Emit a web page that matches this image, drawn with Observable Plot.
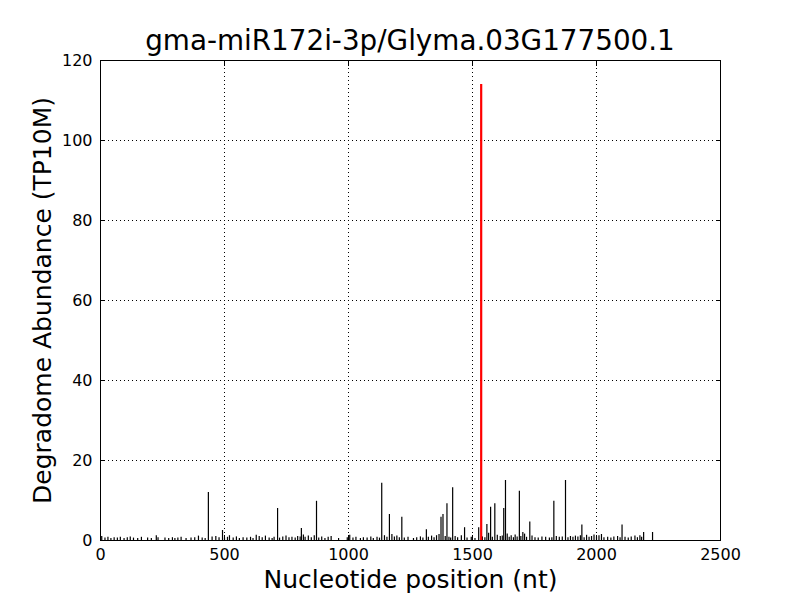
<!DOCTYPE html>
<html>
<head>
<meta charset="utf-8">
<script src="https://cdn.jsdelivr.net/npm/d3@7"></script>
<script src="https://cdn.jsdelivr.net/npm/@observablehq/plot@0.6"></script>
<style>
  html, body { margin: 0; padding: 0; background: #fff; }
  #wrap { position: relative; width: 800px; height: 600px; font-family: "DejaVu Sans", sans-serif; }
  #title { position: absolute; top: 24px; left: 100px; width: 620px; text-align: center; font-size: 27.8px; color: #000; }
</style>
</head>
<body>
<div id="wrap"><div id="title">gma-miR172i-3p/Glyma.03G177500.1</div></div>
<script>
const titleText = "gma-miR172i-3p/Glyma.03G177500.1";
const xLabel = "Nucleotide position (nt)";
const yLabel = "Degradome Abundance (TP10M)";
const xTicks = [0, 500, 1000, 1500, 2000, 2500];
const yTicks = [0, 20, 40, 60, 80, 100, 120];

// tall peaks (nt position, TP10M)
const peakPos = [435, 492, 714, 810, 871, 1134, 1165, 1215, 1314, 1373, 1381, 1397, 1420, 1468, 1525, 1558, 1573, 1590, 1626, 1633, 1689, 1703, 1731, 1828, 1875, 1941, 2103, 2190, 2226];
const peakVal = [12, 2.5, 8, 3, 9.8, 14.3, 6.5, 5.8, 2.7, 5.8, 6.5, 9.2, 13.2, 3.2, 3.2, 4, 8.3, 9.2, 8, 15, 12.3, 2, 4.6, 9.8, 15, 3.9, 3.9, 2, 2];

// small background reads
const smallPos = [5, 18, 30, 42, 55, 68, 80, 95, 108, 120, 133, 150, 165, 190, 205, 225, 232, 260, 275, 290, 300, 312, 325, 345, 365, 380, 395, 410, 422,
  450, 465, 478, 500, 512, 520, 535, 548, 560, 575, 590, 605, 615, 628, 640, 652, 665, 680, 692, 700, 722, 735, 748, 760, 772, 785, 795, 805, 818, 825, 838, 850, 862, 880, 892, 905, 918, 930, 960, 995, 1005, 1018, 1030, 1048, 1060, 1075, 1090, 1100, 1115, 1125,
  1145, 1155, 1175, 1185, 1195, 1205, 1225, 1240, 1262, 1275, 1290, 1300, 1322, 1335, 1345, 1355, 1365, 1390, 1405, 1412, 1430, 1440, 1455, 1478, 1495, 1510, 1540, 1550, 1565, 1580, 1600, 1612, 1620, 1640, 1648, 1656, 1665, 1672, 1680, 1695, 1710, 1718, 1740, 1752, 1765, 1780, 1795, 1810, 1820, 1838, 1850, 1862, 1885, 1895, 1905, 1915, 1925, 1935, 1950, 1960, 1970, 1980, 1990, 2000, 2010, 2020, 2030, 2045, 2058, 2070, 2085, 2095, 2115, 2128, 2140, 2155, 2165, 2175, 2182, 2200, 2212];
const smallVal = [1, 0.6, 0.8, 0.5, 0.7, 0.6, 0.8, 0.5, 0.7, 0.9, 0.6, 0.5, 0.8, 0.6, 0.5, 1.2, 0.7, 0.6, 0.5, 0.7, 0.5, 0.6, 0.8, 0.5, 0.6, 0.7, 1.1, 0.6, 0.5,
  0.9, 1, 0.7, 0.6, 0.8, 1.2, 0.6, 0.9, 0.5, 0.7, 0.6, 0.8, 0.5, 1.3, 1, 0.7, 1.1, 0.6, 0.5, 0.8, 0.6, 0.9, 1.1, 0.7, 0.8, 0.6, 1, 0.9, 1.4, 0.8, 1.1, 0.7, 1.2, 0.6, 0.9, 0.5, 0.8, 1, 0.5, 0.7, 1.3, 0.6, 0.8, 0.5, 0.7, 0.6, 0.9, 0.5, 0.8, 0.6,
  1.2, 0.8, 1.5, 0.9, 1.1, 0.7, 0.6, 0.8, 0.5, 0.7, 0.9, 0.6, 0.8, 1.1, 0.7, 1.2, 1.5, 1, 0.8, 0.6, 1, 0.7, 1.2, 0.6, 0.8, 0.5, 0.9, 0.7, 1.8, 0.8, 1.3, 1, 1.1, 1.6, 0.8, 1.2, 0.7, 1.4, 0.9, 1, 1.6, 0.8, 1.1, 0.7, 0.6, 0.9, 0.8, 0.6, 0.7, 1, 0.8, 0.9, 0.7, 1, 0.8, 1.1, 0.9, 1.2, 0.7, 1.3, 0.8, 1, 1.4, 0.9, 1.2, 1.5, 0.7, 0.8, 0.6, 0.9, 1, 0.7, 0.8, 0.6, 0.9, 1.1, 0.7, 1.2, 0.8];

// cleavage site
const sitePos = [1535];
const siteVal = [114];

const bars = smallPos.map((p, i) => ({pos: p, val: smallVal[i]}))
  .concat(peakPos.map((p, i) => ({pos: p, val: peakVal[i]})));
const site = sitePos.map((p, i) => ({pos: p, val: siteVal[i]}));

const fmt = d => String(d);

const chart = Plot.plot({
  width: 800,
  height: 600,
  marginLeft: 100,
  marginRight: 80,
  marginTop: 60,
  marginBottom: 60,
  style: {fontFamily: "DejaVu Sans, sans-serif", fontSize: "16px", color: "#000", background: "#fff"},
  x: {domain: [0, 2500], ticks: xTicks},
  y: {domain: [0, 120], ticks: yTicks},
  marks: [
    Plot.gridX(xTicks.slice(1, -1), {stroke: "#000", strokeOpacity: 1, strokeDasharray: "1,3", strokeWidth: 1}),
    Plot.gridY(yTicks.slice(1, -1), {stroke: "#000", strokeOpacity: 1, strokeDasharray: "1,3", strokeWidth: 1}),
    Plot.ruleX(bars, {x: "pos", y1: 0, y2: "val", stroke: "#000", strokeWidth: 1.2}),
    Plot.ruleX(site, {x: "pos", y1: 0, y2: "val", stroke: "#ff0000", strokeWidth: 2.2}),
    Plot.axisX(xTicks, {anchor: "bottom", tickSize: -5, tickPadding: 13, label: null, fontSize: 16, tickFormat: fmt}),
    Plot.axisX(xTicks, {anchor: "top", tickSize: -5, text: null, label: null}),
    Plot.axisY(yTicks, {anchor: "left", tickSize: -5, tickPadding: 13, label: null, fontSize: 16, tickFormat: fmt}),
    Plot.axisY(yTicks, {anchor: "right", tickSize: -5, text: null, label: null}),
    Plot.frame({stroke: "#000", strokeWidth: 1}),
    Plot.text([xLabel], {frameAnchor: "bottom", dy: 47, fontSize: 25, fill: "#000", textAnchor: "middle"}),
    Plot.text([yLabel], {frameAnchor: "left", dx: -58, rotate: -90, fontSize: 25, fill: "#000", textAnchor: "middle"})
  ]
});
chart.style.position = "absolute";
chart.style.left = "0";
chart.style.top = "0";
const wrap = document.getElementById("wrap");
wrap.insertBefore(chart, wrap.firstChild);
</script>
</body>
</html>
